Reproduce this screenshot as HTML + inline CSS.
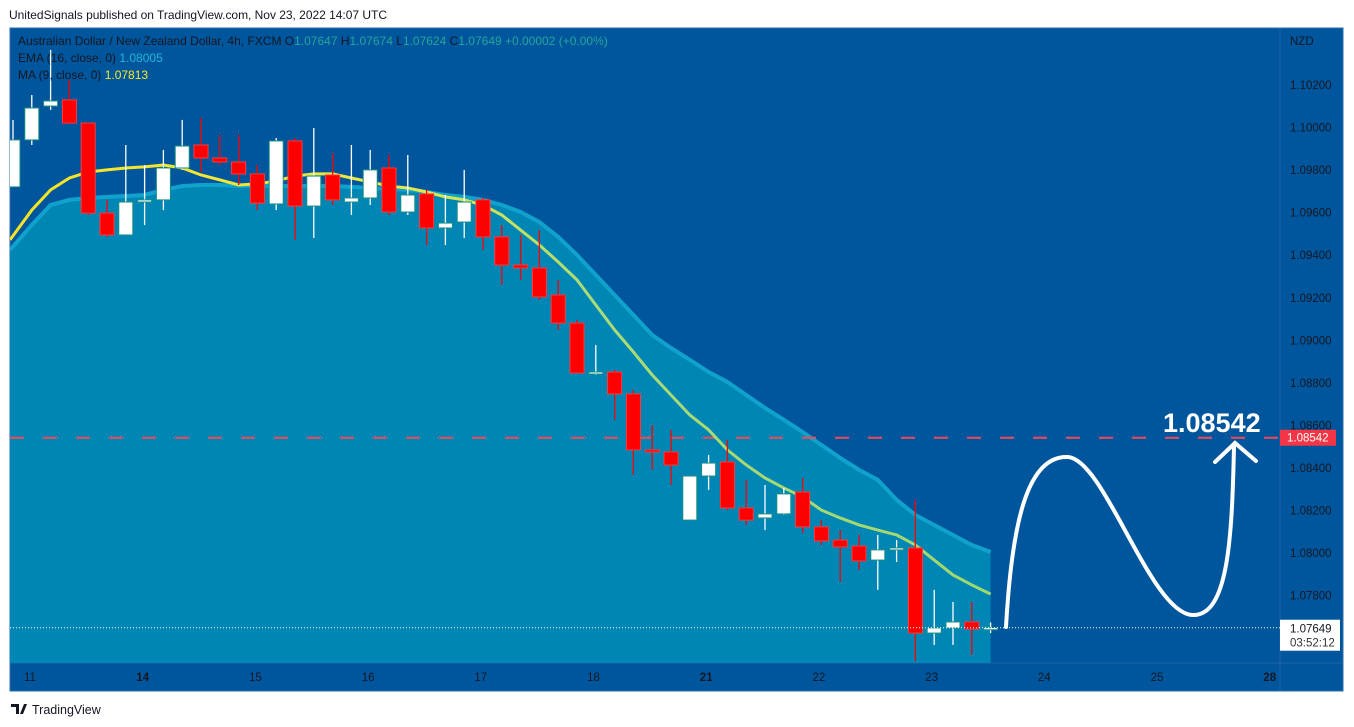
<!DOCTYPE html>
<html><head><meta charset="utf-8">
<style>
body{margin:0;width:1354px;height:727px;background:#fff;font-family:"Liberation Sans",sans-serif;overflow:hidden}
svg{position:absolute;left:0;top:0}
</style></head>
<body>
<svg id="chart" width="1354" height="727" font-family="Liberation Sans, sans-serif"></svg>
<script>
const opens=[1.09721,1.09942,1.10101,1.10130,1.10021,1.09598,1.09495,1.09650,1.09660,1.09810,1.09918,1.09857,1.09838,1.09782,1.09641,1.09937,1.09631,1.09777,1.09650,1.09669,1.09810,1.09603,1.09688,1.09528,1.09556,1.09660,1.09486,1.09354,1.09340,1.09213,1.09081,1.08846,1.08851,1.08748,1.08485,1.08475,1.08155,1.08362,1.08428,1.08212,1.08165,1.08184,1.08287,1.08123,1.08061,1.08033,1.07967,1.08015,1.08024,1.07624,1.07648,1.07676,1.07647];
const highs=[1.10036,1.10153,1.10365,1.10224,1.10021,1.09660,1.09918,1.09824,1.09895,1.10036,1.10045,1.09965,1.09965,1.09824,1.09951,1.09951,1.09998,1.09880,1.09918,1.09895,1.09871,1.09871,1.09707,1.09683,1.09801,1.09669,1.09542,1.09495,1.09518,1.09284,1.09096,1.08978,1.08861,1.08767,1.08602,1.08579,1.08362,1.08461,1.08532,1.08344,1.08320,1.08306,1.08353,1.08155,1.08108,1.08085,1.08085,1.08061,1.08250,1.07827,1.07770,1.07770,1.07674];
const lows=[1.09721,1.09918,1.10083,1.10021,1.09589,1.09486,1.09495,1.09542,1.09612,1.09801,1.09791,1.09824,1.09730,1.09612,1.09612,1.09472,1.09481,1.09636,1.09589,1.09636,1.09589,1.09589,1.09448,1.09448,1.09481,1.09425,1.09260,1.09284,1.09190,1.09049,1.08846,1.08837,1.08626,1.08367,1.08391,1.08320,1.08155,1.08297,1.08202,1.08132,1.08108,1.08179,1.08094,1.08038,1.07864,1.07921,1.07827,1.07958,1.07493,1.07568,1.07568,1.07521,1.07624];
const closes=[1.09942,1.10092,1.10125,1.10021,1.09598,1.09495,1.09650,1.09660,1.09810,1.09913,1.09857,1.09838,1.09782,1.09645,1.09937,1.09631,1.09772,1.09660,1.09669,1.09801,1.09603,1.09683,1.09528,1.09551,1.09650,1.09486,1.09354,1.09340,1.09204,1.09081,1.08846,1.08851,1.08748,1.08485,1.08475,1.08414,1.08362,1.08423,1.08212,1.08155,1.08184,1.08278,1.08123,1.08057,1.08029,1.07963,1.08015,1.08024,1.07624,1.07648,1.07676,1.07643,1.07649];
const emaVals=[1.09425,1.09542,1.09636,1.09660,1.09669,1.09674,1.09678,1.09683,1.09707,1.09725,1.09730,1.09730,1.09725,1.09725,1.09725,1.09725,1.09725,1.09725,1.09721,1.09716,1.09711,1.09707,1.09697,1.09683,1.09674,1.09660,1.09636,1.09603,1.09556,1.09486,1.09401,1.09307,1.09213,1.09119,1.09025,1.08964,1.08908,1.08851,1.08804,1.08743,1.08682,1.08626,1.08569,1.08508,1.08447,1.08391,1.08344,1.08250,1.08179,1.08132,1.08085,1.08038,1.08005];
const maVals=[1.09472,1.09612,1.09707,1.09763,1.09791,1.09801,1.09810,1.09815,1.09824,1.09810,1.09777,1.09754,1.09730,1.09735,1.09749,1.09772,1.09782,1.09782,1.09763,1.09744,1.09725,1.09716,1.09697,1.09674,1.09660,1.09636,1.09589,1.09518,1.09448,1.09368,1.09284,1.09166,1.09049,1.08945,1.08837,1.08743,1.08649,1.08579,1.08485,1.08414,1.08353,1.08306,1.08264,1.08202,1.08165,1.08132,1.08108,1.08085,1.08038,1.07967,1.07897,1.07850,1.07807];
const yTicks=[1.102,1.100,1.098,1.096,1.094,1.092,1.090,1.088,1.086,1.084,1.082,1.080,1.078];
const dayLabels=["11","14","15","16","17","18","21","22","23","24","25","28"];
const boldDays=["14","21","28"];
const targetPrice=1.08542;
const lastPrice=1.07649;

const NS="http://www.w3.org/2000/svg";
const svg=document.getElementById('chart');
function y(v){return 85+(1.102-v)/0.002*42.55;}
function x(i){return 13+i*18.8;}
function dayX(k){return 30+k*112.7;}
function mk(tag,attrs,parent){const e=document.createElementNS(NS,tag);for(const k in attrs)e.setAttribute(k,attrs[k]);(parent||svg).appendChild(e);return e;}

let t=mk('text',{x:9,y:19,'font-size':12,fill:'#131722',textLength:378});t.textContent='UnitedSignals published on TradingView.com, Nov 23, 2022 14:07 UTC';



let bg=mk('rect',{x:10,y:28,width:1333,height:663,fill:'#00569c',stroke:'#2a6fb0'});


let ax=mk('line',{x1:1280,y1:28,x2:1280,y2:691,stroke:'#1f63a3'});


let tx=mk('line',{x1:10,y1:663,x2:1343,y2:663,stroke:'#1f63a3'});



const defs=mk('defs',{});
const grad=mk('linearGradient',{id:'maGrad',x1:0,y1:0,x2:1,y2:0},defs);
mk('stop',{offset:'0','stop-color':'#f7e324'},grad);
mk('stop',{offset:'0.4','stop-color':'#e8e848'},grad);
mk('stop',{offset:'0.6','stop-color':'#a8dc78'},grad);
mk('stop',{offset:'1','stop-color':'#a0d870'},grad);
const clip=mk('clipPath',{id:'plotClip'},defs);
mk('rect',{x:10,y:28,width:1270,height:635},clip);
const g=mk('g',{'clip-path':'url(#plotClip)'});

let d='M10 663';
emaVals.forEach((v,i)=>{d+=' L'+(i===0?10:x(i))+' '+y(v);});
d+=' L'+x(emaVals.length-1)+' 663 Z';
let fill=mk('path',{d:d,fill:'#0086b4'},g);


let ed='';emaVals.forEach((v,i)=>{ed+=(i?' L':'M')+(i===0?10:x(i))+' '+y(v);});
let emaLine=mk('path',{d:ed,fill:'none',stroke:'#10a2cc','stroke-width':4},g);



let tl=mk('line',{x1:10,y1:y(targetPrice),x2:1280,y2:y(targetPrice),stroke:'#f04a5a','stroke-width':2,'stroke-dasharray':'14 19'},g);



let md='';maVals.forEach((v,i)=>{md+=(i?' L':'M')+(i===0?10:x(i))+' '+y(v);});
let maLine=mk('path',{d:md,fill:'none',stroke:'url(#maGrad)','stroke-width':3},g);



opens.forEach((o,i)=>{
  const c=closes[i],up=c>=o,cx=x(i);
  const col=up?'#ffffff':'#ff0000';
  const cg=mk('g',{},g);
  
  
  mk('line',{x1:cx,y1:y(highs[i]),x2:cx,y2:y(lows[i]),stroke:col,'stroke-width':1.3},cg);
  const top=y(Math.max(o,c)),bot=y(Math.min(o,c));
  mk('rect',{x:cx-7,y:top,width:14,height:Math.max(bot-top,2),fill:col,stroke:up?'#1a8f80':'#ff3a3a','stroke-width':1},cg);
});

let lp=mk('line',{x1:10,y1:y(lastPrice),x2:1280,y2:y(lastPrice),stroke:'#ffffff','stroke-width':1,'stroke-dasharray':'1 2'});



let pr=mk('path',{d:'M1006 627 C1012 520 1028 455 1068 457 C1105 460 1150 612 1192 615 C1228 617 1232 540 1234 446',fill:'none',stroke:'#ffffff','stroke-width':4,'stroke-linecap':'round'});


let ar=mk('path',{d:'M1215 462 L1235 443 L1256 461',fill:'none',stroke:'#ffffff','stroke-width':4,'stroke-linecap':'round'});


let big=mk('text',{x:1163,y:432,'font-size':27,'font-weight':'bold',fill:'#ffffff'});big.textContent=targetPrice.toFixed(5);



let nz=mk('text',{x:1290,y:45,'font-size':11.5,fill:'#131722'});nz.textContent='NZD';


yTicks.forEach(v=>{
  const e=mk('text',{x:1290,y:y(v)+4,'font-size':11.5,fill:'#131722'});e.textContent=v.toFixed(5);
  
  
});
let tb=mk('g',{});


mk('rect',{x:1280,y:y(targetPrice)-8,width:56,height:16,fill:'#f23645'},tb);
let tbt=mk('text',{x:1287,y:y(targetPrice)+4,'font-size':11.5,fill:'#fff'},tb);tbt.textContent=targetPrice.toFixed(5);
let lb=mk('g',{});


mk('rect',{x:1280,y:y(lastPrice)-8,width:60,height:31,fill:'#ffffff'},lb);
let l1=mk('text',{x:1290,y:y(lastPrice)+5,'font-size':11.5,fill:'#131722'},lb);l1.textContent=lastPrice.toFixed(5);
let l2=mk('text',{x:1290,y:y(lastPrice)+19,'font-size':11.5,fill:'#333'},lb);l2.textContent='03:52:12';

dayLabels.forEach((s,k)=>{
  const e=mk('text',{x:dayX(k),y:681,'font-size':11.5,fill:'#131722','text-anchor':'middle','font-weight':boldDays.includes(s)?'bold':'normal'});e.textContent=s;
  
  
});

const lg=mk('g',{'font-size':12});


function tspanLine(yy,parts){const e=mk('text',{x:18,y:yy},lg);parts.forEach(([s,c])=>{const ts=mk('tspan',{fill:c},e);ts.textContent=s;});return e;}
tspanLine(45,[['Australian Dollar / New Zealand Dollar, 4h, FXCM  O','#131722'],['1.07647','#26a69a'],['  H','#131722'],['1.07674','#26a69a'],['  L','#131722'],['1.07624','#26a69a'],['  C','#131722'],['1.07649 +0.00002 (+0.00%)','#26a69a']]);
tspanLine(62,[['EMA (16, close, 0)  ','#131722'],['1.08005','#22b5d6']]);
tspanLine(79,[['MA (9, close, 0)  ','#131722'],['1.07813','#f5ea2a']]);

let ft=mk('g',{});


mk('path',{d:'M11 704 h8 v10 h-3 v-7 h-5z M20 714 l4 -10 h3 l-4 10z',fill:'#131722'},ft);
let ftt=mk('text',{x:32,y:714,'font-size':12.5,fill:'#131722'},ft);ftt.textContent='TradingView';
</script>
</body></html>
